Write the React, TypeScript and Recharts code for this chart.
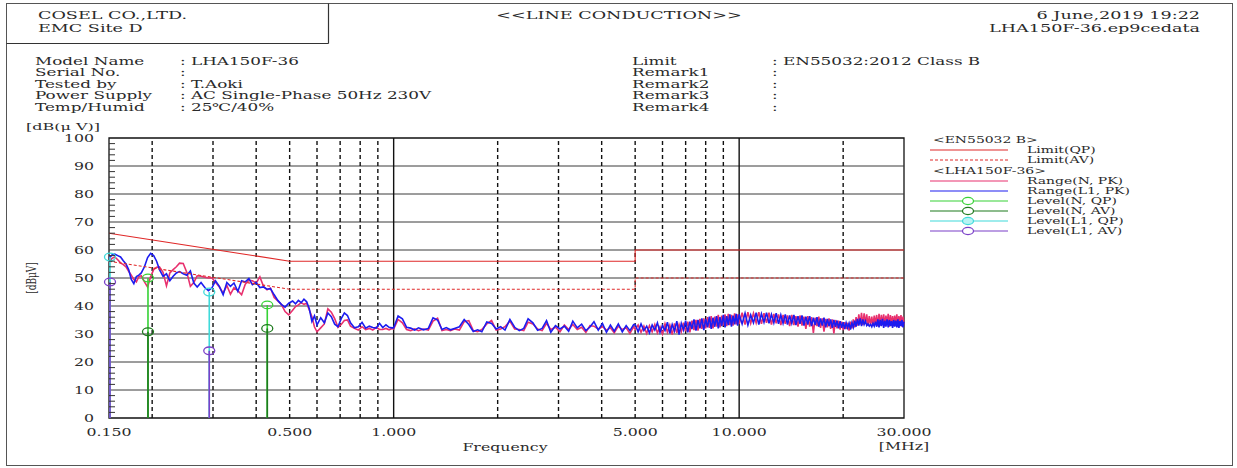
import React from 'react';
import { ComposedChart, Line, XAxis, YAxis, ReferenceLine, ReferenceArea } from 'recharts';

const W = 1237;
const H = 468;
const SERIF = '"DejaVu Serif", "Liberation Serif", serif';
// the printed report is stretched sideways, so every text is widened
const SX = 1.6;

// ---- measured sweep, frequency in MHz, level in dB(uV) ----
const FREQ_A = [
  0.150, 0.153, 0.156, 0.159, 0.162, 0.165, 0.168, 0.171, 0.174, 0.177,
  0.180, 0.183, 0.186, 0.190, 0.194, 0.198, 0.202, 0.206, 0.210, 0.215,
  0.220, 0.225, 0.230, 0.235, 0.240, 0.246, 0.252, 0.258, 0.264, 0.270,
  0.277, 0.284, 0.291, 0.298, 0.305, 0.313, 0.321, 0.329, 0.337, 0.345,
  0.354, 0.363, 0.372, 0.381, 0.390, 0.400, 0.410, 0.420, 0.430, 0.440,
  0.451, 0.462, 0.473, 0.485, 0.497,
];
const N_PK_A = [
  55.5, 57, 57.5, 56.5, 55.4, 54.8, 54, 52.4, 51, 49.5,
  48.6, 50.5, 50.8, 48.6, 46.8, 50.5, 53, 53.8, 54, 52,
  47.2, 51.8, 53, 54, 55.3, 55.2, 52, 47, 48.4, 50.8,
  50.6, 50.3, 50, 50, 48.5, 46.8, 44.6, 47.3, 44.2, 46.5,
  45.5, 44, 47.8, 49.2, 49, 48.2, 50.4, 47, 45.8, 46.4,
  43, 41.8, 40.6, 38, 36.8,
];
const L1_PK_A = [
  57, 58.2, 58.5, 58, 57.5, 56.2, 55, 53, 49.5, 48,
  50.5, 51, 51.8, 54, 57.3, 58.8, 58, 56, 53, 50.6,
  51.5, 49, 50.6, 51.8, 52.3, 51.5, 51, 52.5, 48.2, 46.8,
  48.4, 46.6, 45.5, 46.5, 49, 47, 44, 48.4, 47, 48.2,
  45.2, 49, 48.6, 49.8, 47.6, 48.4, 46.6, 46.8, 46, 46.2,
  44, 42, 40.6, 39.6, 41,
];

const FREQ_B = [
  0.51, 0.52, 0.53, 0.54, 0.55, 0.56, 0.57, 0.58, 0.59, 0.60,
  0.615, 0.63, 0.645, 0.66, 0.675, 0.69, 0.705, 0.72, 0.735, 0.75,
  0.77, 0.79, 0.81, 0.83, 0.85, 0.87, 0.89, 0.91, 0.93, 0.95,
  0.97, 0.99,
];
const N_PK_B = [
  38.5, 39.8, 40.4, 41.2, 40.6, 41, 38.6, 36.2, 32.5, 30.8,
  32.2, 33.6, 39, 37.8, 35.5, 32.4, 33.4, 34.8, 35, 32.8,
  32, 31.4, 32.6, 31.6, 32, 31.4, 32.4, 31.6, 31.6, 32,
  31.5, 32,
];
const L1_PK_B = [
  41.8, 40.8, 42, 41.2, 42.4, 41.5, 39, 34.5, 36.5, 33.2,
  35.8, 34, 37.5, 36.2, 33.5, 32.6, 35.5, 37.5, 36.6, 34,
  32.2, 32.6, 34.2, 32.1, 32.8, 32.3, 32.1, 33.8, 32.3, 33.3,
  32.4, 32.2,
];

const FREQ_C = [
  1.00, 1.03, 1.06, 1.09, 1.12, 1.15, 1.18, 1.22, 1.26, 1.30,
  1.34, 1.38, 1.42, 1.46, 1.50, 1.55, 1.60, 1.65, 1.70, 1.75,
  1.80, 1.86, 1.92, 1.98, 2.04, 2.10, 2.17, 2.24, 2.31, 2.38,
  2.45, 2.53, 2.61, 2.69, 2.77, 2.85, 2.94, 3.03, 3.12, 3.21,
  3.30, 3.40, 3.50, 3.60, 3.70, 3.80, 3.91, 4.02, 4.13, 4.24,
  4.35, 4.47, 4.59, 4.71, 4.83, 4.95,
];
const N_PK_C = [
  31.8, 35.2, 34, 31.6, 31.2, 31.8, 31.2, 31.8, 31.4, 34.6,
  35.6, 31.2, 31.6, 31.2, 31.8, 31.4, 34.4, 34.8, 31.2, 30.8,
  31.6, 33.6, 34.8, 31.4, 31.8, 32.6, 34.6, 31.8, 31.6, 31.2,
  34.2, 33.6, 31.8, 31.2, 33.8, 31.6, 32.4, 30.8, 33.2, 31.6,
  33.4, 31.6, 32.4, 30.6, 33, 32.8, 31.8, 32.6, 31.4, 32.2,
  30.4, 32.8, 31.6, 32.2, 30.2, 32.6,
];
const L1_PK_C = [
  32.2, 36.4, 35.4, 32.4, 32.1, 31.4, 32.2, 31.5, 32, 35.8,
  35, 31.6, 32.3, 31.5, 32, 32.6, 35.2, 33.4, 30.9, 31.5,
  30.8, 34.3, 33.8, 31.8, 32.6, 31.4, 35.2, 32.4, 31.2, 32,
  35.4, 34, 31.3, 32, 34.8, 30.6, 33, 31.8, 32.8, 31,
  34.6, 32.2, 33.5, 31.2, 32.5, 34.4, 31.4, 33.8, 30.6, 33.2,
  31, 33.6, 30.8, 33, 31.2, 33.4,
];

const FREQ_D = [
  5.0, 5.1, 5.2, 5.3, 5.4, 5.5, 5.6, 5.7, 5.8, 5.9,
  6.0, 6.1, 6.2, 6.3, 6.4, 6.5, 6.6, 6.7, 6.8, 6.9,
  7.0, 7.1, 7.2, 7.3, 7.4, 7.5, 7.6, 7.7, 7.8, 7.9,
  8.0, 8.1, 8.2, 8.3, 8.4, 8.5, 8.6, 8.7, 8.8, 8.9,
  9.0, 9.1, 9.2, 9.3, 9.4, 9.5, 9.6, 9.7, 9.8, 9.9,
];
const N_PK_D = [
  31.6, 33.2, 30.6, 32.8, 30.2, 33, 30.8, 33.4, 30.4, 32.6,
  30, 33.6, 30.6, 33.2, 29.8, 33.8, 30.4, 33.4, 30.8, 34,
  31, 34.4, 30.6, 34.8, 31.4, 35, 31.2, 35.4, 31.8, 35.6,
  32, 36, 32.2, 36.4, 32, 36.2, 32.6, 36.8, 32.4, 36.6,
  33, 37, 32.8, 37.2, 33.2, 36.8, 33, 37.4, 33.4, 37,
];
const L1_PK_D = [
  33.4, 30.8, 33.6, 31.2, 32.8, 30.4, 33.2, 31.4, 34, 30.6,
  33, 31.2, 34.2, 30.2, 33.4, 31, 34.6, 29.8, 33.8, 31.4,
  34.8, 30.6, 34.4, 31.8, 35.2, 31.2, 35, 32, 35.6, 31.4,
  35.4, 32.4, 36.2, 31.8, 35.8, 32.6, 36.4, 32, 36, 32.8,
  36.8, 32.4, 36.4, 33.2, 37, 32.6, 36.6, 33.4, 37.2, 33,
];

const FREQ_E = [
  10, 10.2, 10.4, 10.6, 10.8, 11, 11.2, 11.4, 11.6, 11.8,
  12, 12.2, 12.4, 12.6, 12.8, 13, 13.2, 13.4, 13.6, 13.8,
  14, 14.2, 14.4, 14.6, 14.8, 15, 15.2, 15.4, 15.6, 15.8,
  16, 16.2, 16.4, 16.6, 16.8, 17, 17.2, 17.4, 17.6, 17.8,
  18, 18.2, 18.4, 18.6, 18.8, 19, 19.2, 19.4, 19.6, 19.8,
  20, 20.2, 20.4, 20.6, 20.8, 21, 21.2, 21.4, 21.6, 21.8,
  22, 22.2, 22.4, 22.6, 22.8, 23, 23.2, 23.4, 23.6, 23.8,
  24, 24.2, 24.4, 24.6, 24.8, 25, 25.2, 25.4, 25.6, 25.8,
  26, 26.2, 26.4, 26.6, 26.8, 27, 27.2, 27.4, 27.6, 27.8,
  28, 28.2, 28.4, 28.6, 28.8, 29, 29.2, 29.4, 29.6, 29.8,
  30,
];
const N_PK_E = [
  33.6, 37.6, 33.4, 37.8, 33.8, 37.4, 34, 37.8, 33.6, 37.4,
  34, 37.6, 33.4, 37.2, 33.8, 37, 33.2, 36.8, 33.6, 36.6,
  32.8, 36.8, 33.2, 36.4, 32.6, 36.6, 33, 36.2, 31.8, 36.4,
  32.6, 36, 30.4, 35.8, 32.8, 36.2, 32.2, 35.6, 30.8, 35.4,
  32.4, 35.6, 31.8, 35.2, 30.2, 35, 32, 34.8, 31.6, 34.4,
  31.4, 34.2, 31.8, 34, 31.2, 34.4, 32, 35.2, 32.4, 36,
  33, 37, 33.4, 37.6, 33.2, 37.4, 33.6, 37, 33, 36.4,
  33.2, 36.2, 33, 36.6, 33.4, 36.8, 32.8, 37.2, 33, 36.8,
  33.4, 37, 32.8, 36.6, 33.2, 37.2, 32.6, 36.8, 33, 36.4,
  32.8, 36.6, 33.2, 37, 32.6, 36.4, 33, 36.8, 32.6, 36.2,
  33.4,
];
const L1_PK_E = [
  37, 33.6, 37.4, 33.2, 36.8, 34, 37.6, 33.4, 37.2, 34.2,
  37.6, 33.8, 37, 34, 37.4, 33.6, 36.8, 33.8, 37, 33.4,
  36.6, 33.8, 36.8, 33.2, 36.4, 33.6, 36.6, 33, 36.2, 33.4,
  36.4, 32.8, 35.8, 33.2, 36, 32.6, 35.6, 33, 35.8, 32.4,
  35.4, 32.8, 35.2, 32.2, 35, 32.6, 34.8, 32, 34.6, 32.2,
  34.2, 31.8, 34, 32.2, 33.8, 31.6, 34, 32.4, 34.8, 32.6,
  35.4, 33, 35.6, 32.8, 35.2, 33.4, 34.6, 33, 33.6, 32.8,
  33.4, 32.6, 33.8, 32.8, 34.4, 32.6, 35.2, 32.4, 35, 32.8,
  35.4, 32.2, 34.8, 32.6, 35.2, 32.4, 35, 32.8, 34.6, 32.2,
  35, 32.6, 34.8, 32.4, 35.2, 32.2, 34.6, 32.8, 35, 32.4,
  34.4,
];

// EN55032 class B limits
const LIMIT_FREQ = [0.15, 0.5, 5, 5, 30];
const LIMIT_QP = [66, 56, 56, 60, 60];
const LIMIT_AV = [56, 46, 46, 50, 50];

// final measurement points
const MARK_N_FREQ = [0.1945, 0.4307];
const MARK_N_QP = [50, 40.4];
const MARK_N_AV = [30.8, 32];
const MARK_L1_FREQ = [0.151, 0.2926];
const MARK_L1_QP = [57.5, 45];
const MARK_L1_AV = [48.6, 24];

const X_TICKS = [0.15, 0.5, 1, 5, 10, 30];
const X_GRID_DASHED = [0.2, 0.3, 0.4, 0.5, 0.6, 0.7, 0.8, 0.9, 2, 3, 4, 5, 6, 7, 8, 9, 20];
const X_GRID_SOLID = [1, 10];
const Y_GRID = [10, 20, 30, 40, 50, 60, 70, 80, 90];
const Y_TICKS = [
  0, 2, 4, 6, 8, 10, 12, 14, 16, 18, 20, 22, 24, 26, 28, 30, 32, 34, 36, 38, 40,
  42, 44, 46, 48, 50, 52, 54, 56, 58, 60, 62, 64, 66, 68, 70, 72, 74, 76, 78, 80,
  82, 84, 86, 88, 90, 92, 94, 96, 98, 100,
];

const C = {
  n: '#e8306e',
  l1: '#1c1cf0',
  limit: '#e02828',
  nQp: '#36d236',
  nAv: '#1d7a1d',
  l1Qp: '#3fdada',
  l1Av: '#7a3fc8',
  ink: '#2a2a2a',
};

const FREQ = [...FREQ_A, ...FREQ_B, ...FREQ_C, ...FREQ_D, ...FREQ_E];
const N_PK = [...N_PK_A, ...N_PK_B, ...N_PK_C, ...N_PK_D, ...N_PK_E];
const L1_PK = [...L1_PK_A, ...L1_PK_B, ...L1_PK_C, ...L1_PK_D, ...L1_PK_E];

const traceRows = FREQ.map((f, i) => ({ f, n: N_PK[i], l1: L1_PK[i] }));
const limitRows = LIMIT_FREQ.map((f, i) => ({ f, qp: LIMIT_QP[i], av: LIMIT_AV[i] }));

// each reading is a stem from 0 up to the level, broken apart by a null
function stems(freqs: number[], levels: number[]) {
  const rows: { f: number; v: number | null }[] = [];
  freqs.forEach((f, i) => {
    rows.push({ f, v: 0 }, { f, v: levels[i] }, { f, v: null });
  });
  return rows;
}

const stemDot = (color: string, fill = 'none') => (p: any) =>
  p.payload && p.payload.v > 0 ? (
    <ellipse key={p.index} cx={p.cx} cy={p.cy} rx={5.5} ry={3.8} fill={fill} stroke={color} strokeWidth={1.3} />
  ) : (
    <g key={p.index} />
  );

function XTick({ x, y, payload }: any) {
  return (
    <text
      transform={`translate(${x} ${y + 14}) scale(1.5 1)`}
      textAnchor="middle"
      dominantBaseline="central"
      fontFamily={SERIF}
      fontSize={10.5}
      fill={C.ink}
    >
      {Number(payload.value).toFixed(3)}
    </text>
  );
}

function YTick({ x, y, payload }: any) {
  const v = payload.value;
  if (v % 10 === 0) {
    return (
      <text
        transform={`translate(${x - 15} ${y}) scale(1.5 1)`}
        textAnchor="end"
        dominantBaseline="central"
        fontFamily={SERIF}
        fontSize={10.5}
        fill={C.ink}
      >
        {v}
      </text>
    );
  }
  return <line x1={x} x2={x + 6} y1={y} y2={y} stroke="#333" strokeWidth={1} />;
}

function Label({ x, y, size = 10.5, sx = SX, anchor = 'start', children }: any) {
  return (
    <text
      transform={`translate(${x} ${y}) scale(${sx} 1)`}
      textAnchor={anchor}
      dominantBaseline="central"
      fontFamily={SERIF}
      fontSize={size}
      fill={C.ink}
    >
      {children}
    </text>
  );
}

const LEGEND = [
  { y: 140, title: '<EN55032 B>' },
  { y: 150, color: C.limit, label: 'Limit(QP)' },
  { y: 160, color: C.limit, dash: '3 2', label: 'Limit(AV)' },
  { y: 171, title: '<LHA150F-36>' },
  { y: 181, color: C.n, label: 'Range(N, PK)' },
  { y: 191, color: C.l1, label: 'Range(L1, PK)' },
  { y: 201, color: C.nQp, mark: true, label: 'Level(N, QP)' },
  { y: 211, color: C.nAv, mark: true, label: 'Level(N, AV)' },
  { y: 221, color: C.l1Qp, mark: true, fill: '#b8f4f4', label: 'Level(L1, QP)' },
  { y: 231, color: C.l1Av, mark: true, label: 'Level(L1, AV)' },
];

const LEFT_INFO = [
  ['Model Name', ': LHA150F-36'],
  ['Serial No.', ':'],
  ['Tested by', ': T.Aoki'],
  ['Power Supply', ': AC Single-Phase 50Hz 230V'],
  ['Temp/Humid', ': 25\u2103/40%'],
];
const RIGHT_INFO = [
  ['Limit', ': EN55032:2012 Class B'],
  ['Remark1', ':'],
  ['Remark2', ':'],
  ['Remark3', ':'],
  ['Remark4', ':'],
];
const INFO_ROWS_Y = [61, 72, 84, 95, 107];

function Overlay() {
  return (
    <svg width={W} height={H} style={{ position: 'absolute', left: 0, top: 0, pointerEvents: 'none' }}>
      <rect x={6.5} y={3.5} width={1226} height={462} fill="none" stroke="#555" strokeWidth={1} />
      <line x1={328.5} x2={328.5} y1={3.5} y2={43.5} stroke="#333" strokeWidth={1.2} />
      <line x1={6.5} x2={328.5} y1={43.5} y2={43.5} stroke="#333" strokeWidth={1.2} />

      <Label x={38} y={15} size={11}>COSEL CO.,LTD.</Label>
      <Label x={38} y={28} size={11}>EMC Site D</Label>
      <Label x={619} y={15} size={11} anchor="middle">{'<<LINE CONDUCTION>>'}</Label>
      <Label x={1200} y={15} size={11} anchor="end">6 June,2019 19:22</Label>
      <Label x={1200} y={28} size={11} anchor="end">LHA150F-36.ep9cedata</Label>

      {LEFT_INFO.map(([k, v], i) => (
        <g key={k}>
          <Label x={35} y={INFO_ROWS_Y[i]}>{k}</Label>
          <Label x={180} y={INFO_ROWS_Y[i]}>{v}</Label>
        </g>
      ))}
      {RIGHT_INFO.map(([k, v], i) => (
        <g key={k}>
          <Label x={632} y={INFO_ROWS_Y[i]}>{k}</Label>
          <Label x={772} y={INFO_ROWS_Y[i]}>{v}</Label>
        </g>
      ))}

      <Label x={26} y={127} size={10}>{'[dB(\u03bc V)]'}</Label>
      <text
        transform="translate(32 278) rotate(-90) scale(1 1.45)"
        textAnchor="middle"
        dominantBaseline="central"
        fontFamily={SERIF}
        fontSize={9}
        fill={C.ink}
      >
        {'[dB\u03bcV]'}
      </text>
      <Label x={505} y={447} size={10.5} sx={1.5} anchor="middle">Frequency</Label>
      <Label x={904} y={446} size={10.5} sx={1.5} anchor="middle">[MHz]</Label>

      {LEGEND.map((it) =>
        it.title ? (
          <Label key={it.title} x={933} y={it.y} size={9} sx={1.55}>{it.title}</Label>
        ) : (
          <g key={it.label}>
            <line x1={930} x2={1008} y1={it.y} y2={it.y} stroke={it.color} strokeWidth={1.2} strokeDasharray={it.dash} />
            {it.mark && <ellipse cx={968} cy={it.y} rx={5.5} ry={3.6} fill={it.fill || '#fff'} stroke={it.color} strokeWidth={1.2} />}
            <Label x={1027} y={it.y} size={9} sx={1.55}>{it.label}</Label>
          </g>
        )
      )}
    </svg>
  );
}

export default function App() {
  return (
    <div style={{ position: 'absolute', left: 0, top: 0, width: W, height: H, background: '#fff' }}>
      <ComposedChart
        width={W}
        height={H}
        data={traceRows}
        margin={{ top: 138, right: 333, bottom: 20, left: 49 }}
      >
        <XAxis
          dataKey="f"
          type="number"
          scale="log"
          domain={[0.15, 30]}
          ticks={X_TICKS}
          interval={0}
          tick={<XTick />}
          tickSize={0}
          tickMargin={0}
          axisLine={false}
          tickLine={false}
          height={30}
        />
        <YAxis
          type="number"
          domain={[0, 100]}
          ticks={Y_TICKS}
          interval={0}
          tick={<YTick />}
          tickSize={0}
          tickMargin={0}
          axisLine={false}
          tickLine={false}
          width={60}
        />
        {Y_GRID.map((v) => (
          <ReferenceLine key={`h${v}`} y={v} stroke="#3a3a3a" strokeWidth={1} />
        ))}
        {X_GRID_DASHED.map((f) => (
          <ReferenceLine key={`d${f}`} x={f} stroke="#111" strokeWidth={1.4} strokeDasharray="4 3" />
        ))}
        {X_GRID_SOLID.map((f) => (
          <ReferenceLine key={`s${f}`} x={f} stroke="#111" strokeWidth={1.4} />
        ))}
        <ReferenceArea x1={0.15} x2={30} y1={0} y2={100} fill="none" fillOpacity={0} stroke="#111" strokeWidth={1.3} />

        <Line dataKey="n" stroke={C.n} strokeWidth={1.6} dot={false} isAnimationActive={false} />
        <Line dataKey="l1" stroke={C.l1} strokeWidth={1.6} dot={false} isAnimationActive={false} />

        <Line data={limitRows} dataKey="qp" stroke={C.limit} strokeWidth={1.1} dot={false} isAnimationActive={false} />
        <Line data={limitRows} dataKey="av" stroke={C.limit} strokeWidth={1.1} strokeDasharray="3 2" dot={false} isAnimationActive={false} />

        <Line data={stems(MARK_N_FREQ, MARK_N_QP)} dataKey="v" stroke={C.nQp} strokeWidth={1.6} dot={stemDot(C.nQp)} isAnimationActive={false} />
        <Line data={stems(MARK_N_FREQ, MARK_N_AV)} dataKey="v" stroke={C.nAv} strokeWidth={1.6} dot={stemDot(C.nAv)} isAnimationActive={false} />
        <Line data={stems(MARK_L1_FREQ, MARK_L1_QP)} dataKey="v" stroke={C.l1Qp} strokeWidth={1.6} dot={stemDot(C.l1Qp)} isAnimationActive={false} />
        <Line data={stems(MARK_L1_FREQ, MARK_L1_AV)} dataKey="v" stroke={C.l1Av} strokeWidth={1.6} dot={stemDot(C.l1Av)} isAnimationActive={false} />
      </ComposedChart>
      <Overlay />
    </div>
  );
}
